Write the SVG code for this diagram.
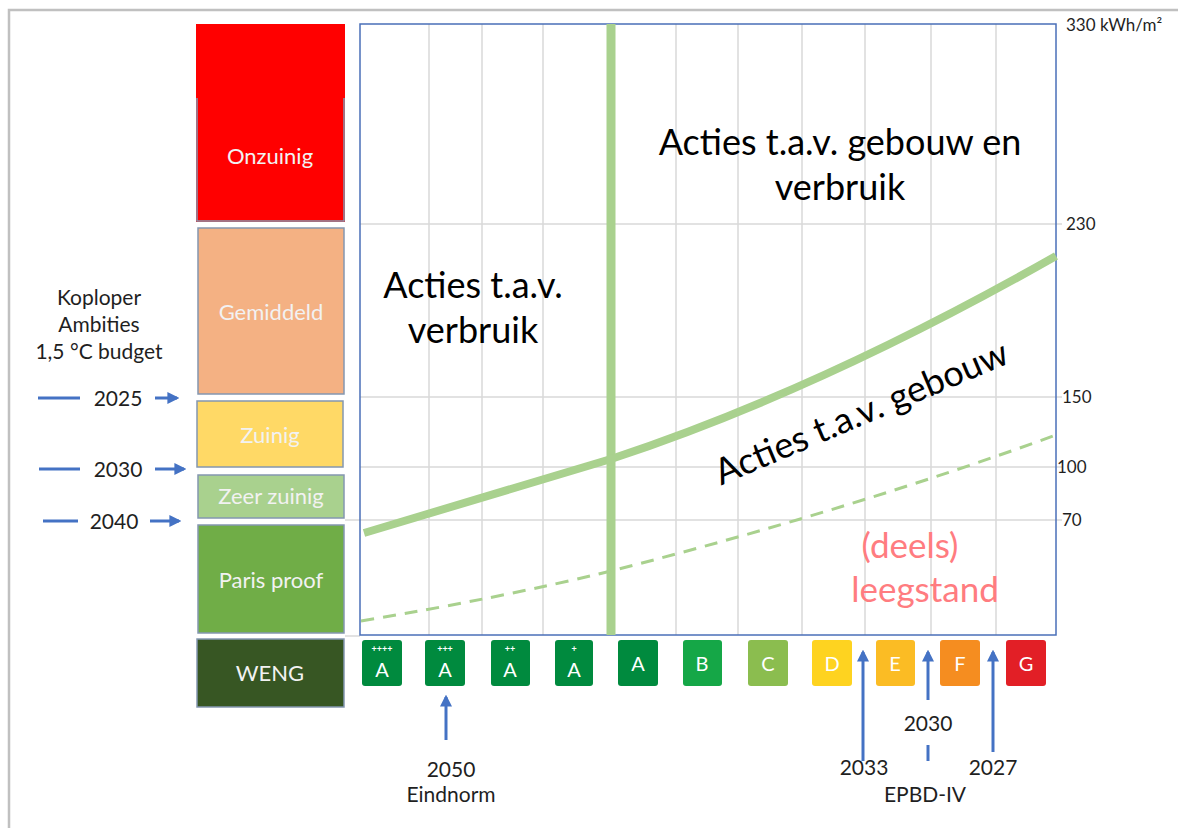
<svg xmlns="http://www.w3.org/2000/svg" width="1178" height="828" viewBox="0 0 1178 828">
<defs>
<style>
text{font-family:Lato,"Open Sans","Liberation Sans",sans-serif}
.box{stroke:#8497b0;stroke-width:1.5}
.bl{fill:#f2f2f2;font-size:22px;text-anchor:middle}
.grid{stroke:#d9d9d9;stroke-width:1.5;fill:none}
.ax{fill:#1f1f1f;font-size:17px}
.big{fill:#000;font-size:36px;text-anchor:middle}
.dk{fill:#1f1f1f;font-size:21px;text-anchor:middle}
.lab{fill:#fff;font-size:20px;text-anchor:middle}
.plus{fill:#fff;font-size:9px;text-anchor:middle;font-weight:bold}
.arr{stroke:#4472c4;stroke-width:3;fill:none}
</style>
<marker id="ah" viewBox="0 0 10 10" refX="8" refY="5" markerWidth="4" markerHeight="4" orient="auto"><path d="M0,0 L10,5 L0,10 z" fill="#4472c4"/></marker>
</defs>
<rect width="1178" height="828" fill="#fff"/>
<path d="M9,828 V10 H1178" stroke="#c0c0c0" stroke-width="2.5" fill="none"/>

<g id="chart">
<rect x="360" y="24" width="696" height="611" fill="#fff"/>
<g class="grid">
<path d="M429,24V635M482,24V635M543,24V635M676,24V635M738,24V635M802,24V635M865,24V635M931,24V635M996,24V635"/>
<path d="M360,224H1062M360,397H1062M360,467H1062M345,520H1062M345,636H360"/>
</g>
<rect x="360" y="24" width="696" height="611" fill="none" stroke="#4a6fb8" stroke-width="1.5"/>
</g>

<g id="scale">
<text class="ax" x="1066" y="31">330 kWh/m²</text>
<text class="ax" x="1066" y="230">230</text>
<text class="ax" x="1062" y="403">150</text>
<text class="ax" x="1057" y="473">100</text>
<text class="ax" x="1062" y="526">70</text>
</g>

<g id="curves">
<path d="M611,24V635" stroke="#a9d18e" stroke-width="9" fill="none"/>
<path d="M364,533 L611,459 Q820,390 1056,256" stroke="#a9d18e" stroke-width="8" fill="none"/>
<path d="M361,621 Q500,598 611,571 Q850,510 1056,435" stroke="#a9d18e" stroke-width="3" stroke-dasharray="13,9" fill="none"/>
</g>

<g id="chart-text">
<text class="big" x="840" y="155">Acties t.a.v. gebouw en</text>
<text class="big" x="840" y="200">verbruik</text>
<text class="big" x="473" y="298">Acties t.a.v.</text>
<text class="big" x="473" y="343">verbruik</text>
<text class="big" transform="translate(866,424) rotate(-23)">Acties t.a.v. gebouw</text>
<text x="910" y="558" fill="#ff7c80" font-size="35" text-anchor="middle">(deels)</text>
<text x="925" y="602" fill="#ff7c80" font-size="35" text-anchor="middle">leegstand</text>
</g>

<g id="onzuinig"><rect x="196" y="24" width="149" height="198" fill="#ff0000"/><path class="box" d="M197,98V221H344V98" fill="none"/><text class="bl" x="270" y="164">Onzuinig</text></g>
<g id="gemiddeld"><rect class="box" x="198" y="228" width="146" height="166" fill="#f4b183"/><text class="bl" x="271" y="320">Gemiddeld</text></g>
<g id="zuinig"><rect class="box" x="197" y="401" width="146" height="66" fill="#ffd966"/><text class="bl" x="270" y="443">Zuinig</text></g>
<g id="zeerzuinig"><rect class="box" x="198" y="475" width="146" height="43" fill="#a9d18e"/><text class="bl" x="271" y="504">Zeer zuinig</text></g>
<g id="parisproof"><rect class="box" x="198" y="525" width="146" height="108" fill="#70ad47"/><text class="bl" x="271" y="588">Paris proof</text></g>
<g id="weng"><rect class="box" x="197" y="639" width="147" height="68" fill="#375623"/><text class="bl" x="270" y="681">WENG</text></g>

<g id="ambities">
<text class="dk" x="99" y="305">Koploper</text>
<text class="dk" x="99" y="332">Ambities</text>
<text class="dk" x="99" y="359">1,5 °C budget</text>
</g>

<g id="labels">
<g id="a4"><rect x="362" y="640" width="40" height="46" rx="3" fill="#008a3e"/><text class="plus" x="382" y="652">++++</text><text class="lab" x="382" y="677">A</text></g>
<g id="a3"><rect x="425" y="640" width="40" height="46" rx="3" fill="#008a3e"/><text class="plus" x="445" y="652">+++</text><text class="lab" x="445" y="677">A</text></g>
<g id="a2"><rect x="491" y="640" width="39" height="46" rx="3" fill="#008a3e"/><text class="plus" x="510" y="652">++</text><text class="lab" x="510" y="677">A</text></g>
<g id="a1"><rect x="555" y="640" width="38" height="46" rx="3" fill="#008a3e"/><text class="plus" x="574" y="652">+</text><text class="lab" x="574" y="677">A</text></g>
<g id="a0"><rect x="618" y="640" width="40" height="46" rx="3" fill="#008a3e"/><text class="lab" x="638" y="671">A</text></g>
<g id="b"><rect x="683" y="640" width="39" height="46" rx="3" fill="#15a747"/><text class="lab" x="702" y="671">B</text></g>
<g id="c"><rect x="748" y="640" width="40" height="46" rx="3" fill="#8bbd4f"/><text class="lab" x="768" y="671">C</text></g>
<g id="d"><rect x="812" y="640" width="40" height="46" rx="3" fill="#fed320"/><text class="lab" x="832" y="671">D</text></g>
<g id="e"><rect x="876" y="640" width="39" height="46" rx="3" fill="#fbbc24"/><text class="lab" x="895" y="671">E</text></g>
<g id="f"><rect x="940" y="640" width="40" height="46" rx="3" fill="#f58d20"/><text class="lab" x="960" y="671">F</text></g>
<g id="g"><rect x="1006" y="640" width="40" height="46" rx="3" fill="#e21f26"/><text class="lab" x="1026" y="671">G</text></g>
</g>

<g id="connectors">
<path class="arr" d="M38,398H80M39,469H80M43,521H78"/>
<path class="arr" marker-end="url(#ah)" d="M155,398H177"/>
<path class="arr" marker-end="url(#ah)" d="M155,469H184"/>
<path class="arr" marker-end="url(#ah)" d="M150,521H179"/>
<path class="arr" marker-end="url(#ah)" d="M446,740V697"/>
<path class="arr" marker-end="url(#ah)" d="M863,761V652"/>
<path class="arr" marker-end="url(#ah)" d="M928,700V652"/>
<path class="arr" d="M928,745V761"/>
<path class="arr" marker-end="url(#ah)" d="M993,752V652"/>
</g>

<g id="year-labels">
<text class="dk" x="118" y="406">2025</text>
<text class="dk" x="118" y="477">2030</text>
<text class="dk" x="114" y="529">2040</text>
<text class="dk" x="451" y="777">2050</text>
<text class="dk" x="451" y="802">Eindnorm</text>
<text class="dk" x="928" y="731">2030</text>
<text class="dk" x="864" y="775">2033</text>
<text class="dk" x="993" y="775">2027</text>
<text class="dk" x="925" y="802">EPBD-IV</text>
</g>
</svg>
